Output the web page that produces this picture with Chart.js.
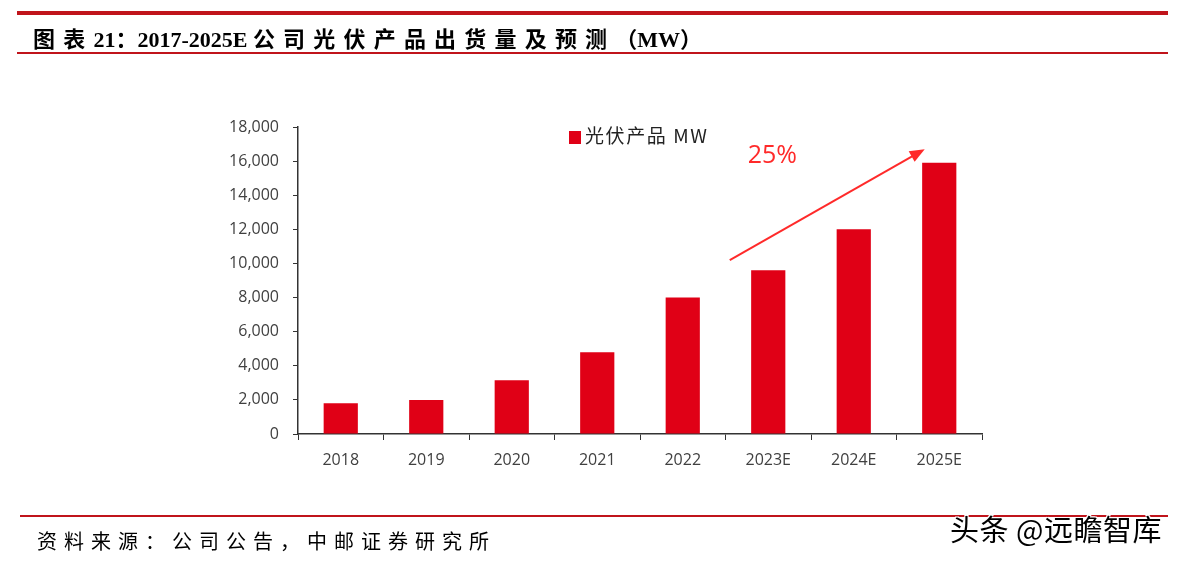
<!DOCTYPE html>
<html>
<head>
<meta charset="utf-8">
<script src="https://cdn.jsdelivr.net/npm/chart.js@4/dist/chart.umd.min.js"></script>
<style>
  html, body { margin: 0; padding: 0; background: #fff; }
  #page { position: relative; width: 1183px; height: 561px; overflow: hidden; }
  .rule { position: absolute; background: #c0141b; }
  #title { position: absolute; left: 33px; top: 21px; font: bold 22px "Liberation Serif", "Noto Sans CJK SC", serif; color: #000; white-space: nowrap; }
  #title .cjk { letter-spacing: 8.2px; }
  #source { position: absolute; left: 37px; top: 526px; font: 20px "Noto Sans CJK SC", serif; color: #000; letter-spacing: 7px; white-space: nowrap; }
  #mark { position: absolute; left: 950px; top: 507px; font: 29px "Noto Sans CJK SC", sans-serif; color: #000; white-space: nowrap; letter-spacing: 0.5px;
          text-shadow: -1px -1px 0 #fff, 1px -1px 0 #fff, -1px 1px 0 #fff, 1px 1px 0 #fff; }
  #legend { position: absolute; left: 569px; top: 121px; font: 19px "Noto Sans CJK SC", sans-serif; color: #222; white-space: nowrap; letter-spacing: 1.6px; }
  #legend i { display: inline-block; width: 12px; height: 13px; background: #e00016; margin-right: 4px; vertical-align: -1px; }
  #wrap { position: absolute; left: 0; top: 0; width: 1183px; height: 561px; }
</style>
</head>
<body>
<div id="page">
  <div id="wrap"><canvas id="myChart"></canvas></div>
  <div class="rule" style="left:17px;top:11px;width:1151px;height:4px"></div>
  <div class="rule" style="left:17px;top:52px;width:1151px;height:2px"></div>
  <div id="title"><span class="cjk">图表</span>21：2017-2025E <span class="cjk">公司光伏产品出货量及预测</span>（MW）</div>
  <div class="rule" style="left:20px;top:515px;width:1148px;height:2px"></div>
  <div id="source">资料来源：公司公告，中邮证券研究所</div>
  <div id="mark">头条 @远瞻智库</div>
  <div id="legend"><i></i><span id="legendText"></span></div>
</div>
<script>
const categories = ["2018", "2019", "2020", "2021", "2022", "2023E", "2024E", "2025E"];
const shipments = [1800, 2000, 3150, 4800, 8000, 9600, 12000, 15900];
const seriesName = "光伏产品 MW";
const growthLabel = "25%";
// arrow ends, in category index / value units
const arrowFrom = [4.55, 10200];
const arrowTo = [6.83, 16700];

document.getElementById('legendText').textContent = seriesName;

// arrow + growth label drawn on top of the bars
const arrowPlugin = {
  id: 'arrowPlugin',
  afterDatasetsDraw(chart) {
    const { ctx, scales } = chart;
    const xs = scales.x, ys = scales.y;
    const step = xs.getPixelForValue(1) - xs.getPixelForValue(0);
    const px = (v) => xs.getPixelForValue(0) + v * step;
    const x1 = px(arrowFrom[0]), y1 = ys.getPixelForValue(arrowFrom[1]);
    const x2 = px(arrowTo[0]), y2 = ys.getPixelForValue(arrowTo[1]);
    const ang = Math.atan2(y2 - y1, x2 - x1);
    const head = 15;
    ctx.save();
    ctx.strokeStyle = '#ff2a2a';
    ctx.fillStyle = '#ff2a2a';
    ctx.lineWidth = 2;
    ctx.beginPath();
    ctx.moveTo(x1, y1);
    ctx.lineTo(x2 - head * 0.8 * Math.cos(ang), y2 - head * 0.8 * Math.sin(ang));
    ctx.stroke();
    ctx.beginPath();
    ctx.moveTo(x2, y2);
    ctx.lineTo(x2 - head * Math.cos(ang) + 6 * Math.sin(ang), y2 - head * Math.sin(ang) - 6 * Math.cos(ang));
    ctx.lineTo(x2 - head * Math.cos(ang) - 6 * Math.sin(ang), y2 - head * Math.sin(ang) + 6 * Math.cos(ang));
    ctx.closePath();
    ctx.fill();
    ctx.font = '25px "Open Sans", "Liberation Sans", sans-serif';
    ctx.textAlign = 'left';
    ctx.textBaseline = 'alphabetic';
    ctx.fillText(growthLabel, px(4.76), ys.getPixelForValue(15900));
    ctx.restore();
  }
};

const tickFont = { size: 16, family: '"Open Sans", "Liberation Sans", sans-serif' };

const ctx = document.getElementById('myChart').getContext('2d');
const myChart = new Chart(ctx, {
  type: 'bar',
  data: {
    labels: categories,
    datasets: [{
      label: seriesName,
      data: shipments,
      backgroundColor: '#e00016',
      borderWidth: 0,
      categoryPercentage: 1,
      barPercentage: 0.4,
    }],
  },
  options: {
    responsive: true,
    maintainAspectRatio: false,
    animation: false,
    layout: { padding: { left: 200, right: 201, top: 127, bottom: 87 } },
    plugins: { legend: { display: false }, tooltip: { enabled: false } },
    scales: {
      x: {
        grid: { display: true, drawOnChartArea: false, tickLength: 6, color: '#333', offset: true },
        border: { color: '#333', width: 1.5 },
        ticks: { color: '#404040', font: tickFont, padding: 11 },
        afterFit(scale) { scale.height = 40; },
      },
      y: {
        min: 0, max: 18000,
        grid: { display: true, drawOnChartArea: false, tickLength: 5, color: '#333' },
        border: { color: '#333', width: 1.5 },
        ticks: {
          stepSize: 2000,
          color: '#404040',
          padding: 14,
          font: tickFont,
          callback: (v) => v.toLocaleString('en-US'),
        },
        afterFit(scale) { scale.width = 98; },
      },
    },
  },
  plugins: [arrowPlugin],
});
</script>
</body>
</html>
